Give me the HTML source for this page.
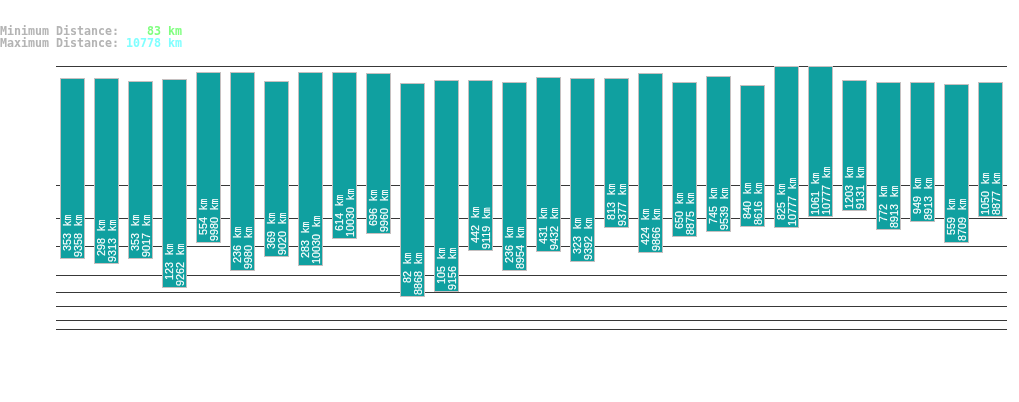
<!DOCTYPE html><html><head><meta charset="utf-8"><title>Distance chart</title><style>
html,body{margin:0;padding:0;background:#fff;}
body{width:1019px;height:402px;position:relative;overflow:hidden;font-family:"DejaVu Sans Mono","Liberation Mono",monospace;}
.h{position:absolute;left:0;margin:0;white-space:pre;font-family:"DejaVu Sans Mono","Liberation Mono",monospace;font-weight:bold;font-size:11.63px;line-height:12px;color:#b4b4b4;letter-spacing:0;}
.h1{top:25px} .h2{top:37px}
.g{color:#80ff80} .c{color:#80ffff}
.l{position:absolute;left:56px;width:951px;height:1px;background:#383838;}
.b{position:absolute;width:25px;box-sizing:border-box;border:1px solid #c6c0c0;background:#10a0a0;}
.t{position:absolute;left:0;bottom:0;width:0;height:0;}
.t span{-webkit-text-stroke:0.14px #fff;position:absolute;left:0;top:0;white-space:pre;color:#fff;font-size:10px;line-height:11px;height:11px;transform-origin:0 0;transform:rotate(-90deg) scaleX(0.94);}
.t u{position:relative;left:0.55px;text-decoration:none;font-family:"DejaVu Sans Mono","Liberation Mono",monospace;font-size:10.6px;}
.t b{font-weight:normal;font-family:"Liberation Sans",sans-serif;font-size:11.48px;}
.t .a{left:1px;top:-1.5px} .t .z{left:12px;top:-1.5px}
</style></head><body>
<pre class="h h1">Minimum Distance: <span class="g">   83 km</span></pre>
<pre class="h h2">Maximum Distance: <span class="c">10778 km</span></pre>
<div class="l" style="top:66px"></div>
<div class="l" style="top:185px"></div>
<div class="l" style="top:218px"></div>
<div class="l" style="top:246px"></div>
<div class="l" style="top:275px"></div>
<div class="l" style="top:292px"></div>
<div class="l" style="top:306px"></div>
<div class="l" style="top:320px"></div>
<div class="l" style="top:329px"></div>
<div class="b" style="left:60px;top:78px;height:181px"><div class="t"><span class="a"><u> </u><b>353</b><u> km</u></span><span class="z"><b>9358</b><u> km</u></span></div></div>
<div class="b" style="left:94px;top:78px;height:186px"><div class="t"><span class="a"><u> </u><b>298</b><u> km</u></span><span class="z"><b>9313</b><u> km</u></span></div></div>
<div class="b" style="left:128px;top:81px;height:178px"><div class="t"><span class="a"><u> </u><b>353</b><u> km</u></span><span class="z"><b>9017</b><u> km</u></span></div></div>
<div class="b" style="left:162px;top:79px;height:209px"><div class="t"><span class="a"><u> </u><b>123</b><u> km</u></span><span class="z"><b>9262</b><u> km</u></span></div></div>
<div class="b" style="left:196px;top:72px;height:171px"><div class="t"><span class="a"><u> </u><b>554</b><u> km</u></span><span class="z"><b>9980</b><u> km</u></span></div></div>
<div class="b" style="left:230px;top:72px;height:199px"><div class="t"><span class="a"><u> </u><b>236</b><u> km</u></span><span class="z"><b>9980</b><u> km</u></span></div></div>
<div class="b" style="left:264px;top:81px;height:176px"><div class="t"><span class="a"><u> </u><b>369</b><u> km</u></span><span class="z"><b>9020</b><u> km</u></span></div></div>
<div class="b" style="left:298px;top:72px;height:194px"><div class="t"><span class="a"><u> </u><b>283</b><u> km</u></span><span class="z"><b>10030</b><u> km</u></span></div></div>
<div class="b" style="left:332px;top:72px;height:167px"><div class="t"><span class="a"><u> </u><b>614</b><u> km</u></span><span class="z"><b>10030</b><u> km</u></span></div></div>
<div class="b" style="left:366px;top:73px;height:161px"><div class="t"><span class="a"><u> </u><b>696</b><u> km</u></span><span class="z"><b>9960</b><u> km</u></span></div></div>
<div class="b" style="left:400px;top:83px;height:214px"><div class="t"><span class="a"><u>  </u><b>82</b><u> km</u></span><span class="z"><b>8868</b><u> km</u></span></div></div>
<div class="b" style="left:434px;top:80px;height:212px"><div class="t"><span class="a"><u> </u><b>105</b><u> km</u></span><span class="z"><b>9156</b><u> km</u></span></div></div>
<div class="b" style="left:468px;top:80px;height:171px"><div class="t"><span class="a"><u> </u><b>442</b><u> km</u></span><span class="z"><b>9119</b><u> km</u></span></div></div>
<div class="b" style="left:502px;top:82px;height:189px"><div class="t"><span class="a"><u> </u><b>236</b><u> km</u></span><span class="z"><b>8954</b><u> km</u></span></div></div>
<div class="b" style="left:536px;top:77px;height:175px"><div class="t"><span class="a"><u> </u><b>431</b><u> km</u></span><span class="z"><b>9432</b><u> km</u></span></div></div>
<div class="b" style="left:570px;top:78px;height:184px"><div class="t"><span class="a"><u> </u><b>323</b><u> km</u></span><span class="z"><b>9392</b><u> km</u></span></div></div>
<div class="b" style="left:604px;top:78px;height:150px"><div class="t"><span class="a"><u> </u><b>813</b><u> km</u></span><span class="z"><b>9377</b><u> km</u></span></div></div>
<div class="b" style="left:638px;top:73px;height:180px"><div class="t"><span class="a"><u> </u><b>424</b><u> km</u></span><span class="z"><b>9866</b><u> km</u></span></div></div>
<div class="b" style="left:672px;top:82px;height:155px"><div class="t"><span class="a"><u> </u><b>650</b><u> km</u></span><span class="z"><b>8875</b><u> km</u></span></div></div>
<div class="b" style="left:706px;top:76px;height:156px"><div class="t"><span class="a"><u> </u><b>745</b><u> km</u></span><span class="z"><b>9539</b><u> km</u></span></div></div>
<div class="b" style="left:740px;top:85px;height:142px"><div class="t"><span class="a"><u> </u><b>840</b><u> km</u></span><span class="z"><b>8616</b><u> km</u></span></div></div>
<div class="b" style="left:774px;top:66px;height:162px"><div class="t"><span class="a"><u> </u><b>825</b><u> km</u></span><span class="z"><b>10777</b><u> km</u></span></div></div>
<div class="b" style="left:808px;top:66px;height:151px"><div class="t"><span class="a"><u></u><b>1061</b><u> km</u></span><span class="z"><b>10777</b><u> km</u></span></div></div>
<div class="b" style="left:842px;top:80px;height:131px"><div class="t"><span class="a"><u></u><b>1203</b><u> km</u></span><span class="z"><b>9131</b><u> km</u></span></div></div>
<div class="b" style="left:876px;top:82px;height:148px"><div class="t"><span class="a"><u> </u><b>772</b><u> km</u></span><span class="z"><b>8913</b><u> km</u></span></div></div>
<div class="b" style="left:910px;top:82px;height:140px"><div class="t"><span class="a"><u> </u><b>949</b><u> km</u></span><span class="z"><b>8913</b><u> km</u></span></div></div>
<div class="b" style="left:944px;top:84px;height:159px"><div class="t"><span class="a"><u> </u><b>559</b><u> km</u></span><span class="z"><b>8709</b><u> km</u></span></div></div>
<div class="b" style="left:978px;top:82px;height:135px"><div class="t"><span class="a"><u></u><b>1050</b><u> km</u></span><span class="z"><b>8877</b><u> km</u></span></div></div>
</body></html>
